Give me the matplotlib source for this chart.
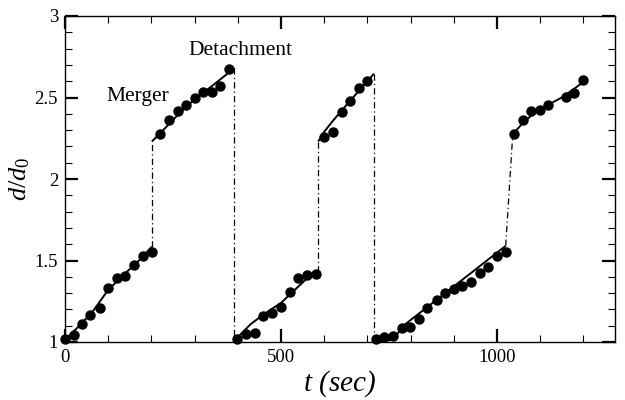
import numpy as np
import matplotlib
matplotlib.use("Agg")
import matplotlib.pyplot as plt
from matplotlib.ticker import MultipleLocator

plt.rcParams["font.family"] = ["Liberation Serif", "DejaVu Serif"]
plt.rcParams["mathtext.fontset"] = "custom"
plt.rcParams["mathtext.it"] = "Liberation Serif:italic"
plt.rcParams["mathtext.rm"] = "Liberation Serif"

# measured points (t in sec, d/d0)
t_meas = [0, 21, 40, 59, 80, 100, 120, 140, 160, 180, 201,
          220, 241, 261, 280, 300, 320, 340, 359, 379,
          399, 419, 440, 459, 480, 500, 520, 540, 560, 580,
          600, 620, 640, 660, 680, 700,
          720, 739, 759, 779, 799, 819, 839, 860, 880, 900, 920, 940,
          960, 980, 1000, 1020,
          1039, 1059, 1079, 1100, 1119, 1159, 1179, 1199]
d_meas = [1.017, 1.04, 1.11, 1.165, 1.21, 1.33, 1.39, 1.405, 1.47, 1.53, 1.555,
          2.278, 2.364, 2.42, 2.454, 2.5, 2.536, 2.536, 2.568, 2.677,
          1.017, 1.05, 1.057, 1.158, 1.18, 1.215, 1.307, 1.39, 1.41, 1.42,
          2.26, 2.29, 2.41, 2.476, 2.558, 2.603,
          1.017, 1.03, 1.037, 1.084, 1.092, 1.143, 1.207, 1.258, 1.299, 1.324, 1.342, 1.37,
          1.426, 1.463, 1.53, 1.555,
          2.278, 2.36, 2.419, 2.425, 2.454, 2.505, 2.525, 2.607]

# model curves
t_m1a = [0, 10, 35, 65, 100, 143, 175, 201]
d_m1a = [1.0, 1.04, 1.104, 1.19, 1.32, 1.43, 1.51, 1.585]
t_m1b = [201, 220, 260, 300, 340, 392]
d_m1b = [2.23, 2.28, 2.39, 2.49, 2.57, 2.68]
t_m2a = [392, 400, 430, 460, 500, 520, 540, 560, 586]
d_m2a = [1.0, 1.03, 1.11, 1.17, 1.24, 1.29, 1.34, 1.39, 1.43]
t_m2b = [586, 600, 621, 660, 690, 715]
d_m2b = [2.23, 2.29, 2.36, 2.48, 2.57, 2.646]
t_m3a = [725, 760, 783, 914, 1020]
d_m3a = [1.0, 1.015, 1.10, 1.37, 1.59]
t_m3b = [1036, 1045, 1060, 1080, 1100, 1150, 1200]
d_m3b = [2.26, 2.30, 2.345, 2.39, 2.43, 2.50, 2.595]

# jumps (merger / detachment)
jumps_t = [[201, 201], [392, 392], [586, 586], [715, 715], [1020, 1036]]
jumps_d = [[1.585, 2.23], [2.68, 1.0], [1.43, 2.23], [2.646, 1.0], [1.59, 2.26]]

fig = plt.figure(figsize=(6.25, 4.0), dpi=100)
ax = fig.add_axes([0.104, 0.145, 0.88, 0.815])

for tt, dd in [(t_m1a, d_m1a), (t_m1b, d_m1b), (t_m2a, d_m2a),
               (t_m2b, d_m2b), (t_m3a, d_m3a), (t_m3b, d_m3b)]:
    ax.plot(tt, dd, color="black", lw=1.4, solid_capstyle="butt")
for tt, dd in zip(jumps_t, jumps_d):
    ax.plot(tt, dd, color="black", lw=0.9, linestyle=(0, (5, 2.5, 1, 2.5)))
ax.plot(t_meas, d_meas, "o", color="black", ms=6.5, clip_on=False)

ax.text(169, 2.505, "Merger", fontsize=15.5, ha="center", va="center")
ax.text(407, 2.787, "Detachment", fontsize=15.5, ha="center", va="center")

ax.set_xlim(0, 1273)
ax.set_ylim(1, 3)
ax.xaxis.set_major_locator(MultipleLocator(500))
ax.xaxis.set_minor_locator(MultipleLocator(100))
ax.yaxis.set_minor_locator(MultipleLocator(0.1))
ax.set_yticks([1, 1.5, 2, 2.5, 3])
ax.set_yticklabels(["1", "1.5", "2", "2.5", "3"])
ax.tick_params(which="both", direction="in", top=True, right=True, labelsize=13.5)
ax.tick_params(which="major", length=9.5, width=1.6, pad=5)
ax.tick_params(which="minor", length=5, width=0.8)
for s in ax.spines.values():
    s.set_linewidth(1.0)

ax.set_xlabel(r"$t$ (sec)", fontsize=21, style="italic", labelpad=2)
ax.set_ylabel(r"$d/d_0$", fontsize=19, labelpad=2)

fig.savefig("out.png", dpi=100)
